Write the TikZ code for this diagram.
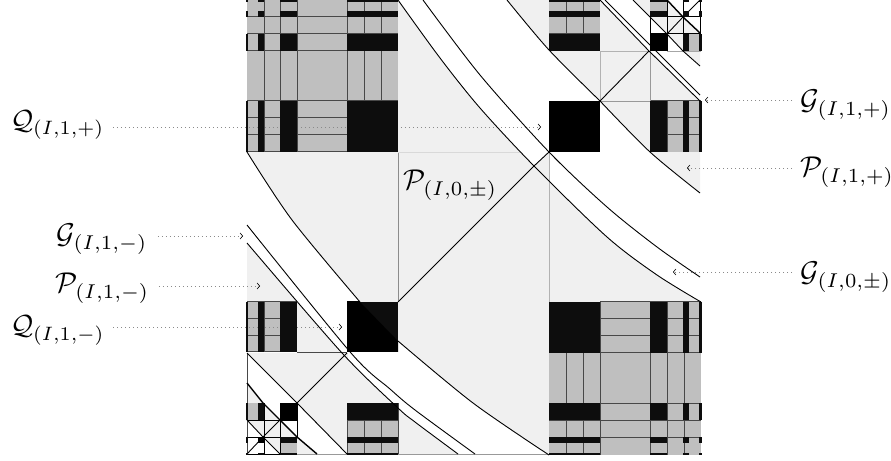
\documentclass[tikz,border=0pt]{standalone}
\usetikzlibrary{arrows.meta}
\definecolor{lg}{HTML}{F0F0F0}
\definecolor{mg}{HTML}{BFBFBF}
\definecolor{bk}{HTML}{0D0D0D}
\definecolor{ln}{HTML}{484848}
\definecolor{dt}{HTML}{8A8A8A}
\def\XL{246/248,258/264,280/297,347/398}
\def\XR{549/600,650/667,683/689,699/702}
\def\YT{0/2,11/17,34/51,101/152}
\def\YB{302/353,403/420,437/443,453/455}
\tikzset{
 lgfill/.style={fill=lg},
 mgfill/.style={fill=mg},
 grid/.style={draw=ln,line width=1bp},
 pale/.style={draw=#1,line width=0.8bp},
 curve/.style={draw=black,line width=0.9bp},
 heavy/.style={draw=black,line width=1.4bp},
 leader/.style={draw=dt,line width=0.7bp,dash pattern=on 0.8bp off 3.2bp,-{Straight Barb[color=black,length=2.5bp,width=6bp,line width=0.6bp]}},
 lab/.style={anchor=base west,inner sep=0pt,scale=2.87},
 labq/.style={anchor=base west,inner sep=0pt,scale=2.78},
}
\begin{document}
\begin{tikzpicture}[x=1bp,y=-1bp]
\useasboundingbox (0,0) rectangle (891,461);
\fill[white] (0,0) rectangle (891,461);
% light regions
\fill[lgfill] plot[smooth] coordinates {(398,0)(440,58)(480,108)(534,166)(607,237)(657,275)(701,302)} -- (398,302) -- cycle;
\fill[lgfill] (534,166) -- (549,152) -- (549,181) -- cycle;
\fill[lgfill] plot[smooth] coordinates {(247,152)(292,220)(360,302)(398,341)(473,403)(549,455)} -- (549,302) -- (398,302) -- (398,152) -- cycle;
\fill[lgfill] plot[smooth] coordinates {(507,0)(549,50)(600,101)(650,152)(700,193)} -- (700,101) -- (649,51) -- (600,0) -- cycle;
\fill[lgfill] (633,0) -- (650,17) -- (667,34) -- (683,51) -- (700,66) -- (700,0) -- cycle;
\fill[white] (667,0) -- (683,17) -- (700,33) -- (700,0) -- cycle;
\fill[lgfill] (247,353) -- (297,403) -- (347,454) -- (347,353) -- cycle;
\fill[lgfill] plot[smooth] coordinates {(247,243)(342,353)(398,408)(415,422)(458,454)} -- (398,454) -- (398,403) -- (347,403) -- (347,353) -- (297,353) -- (297,302) -- (247,302) -- cycle;
\fill[lgfill] (247,383) -- (263,403) -- (280,420) -- (297,437) -- (317,454) -- (280,454) -- (263,437) -- (247,420) -- cycle;
% mid grey blocks
\fill[mgfill] (247,0) rectangle (398,152);
\fill[mgfill] (549,302) rectangle (701,455);
\fill[mgfill] (549,0) rectangle (600,51);
\fill[mgfill] (650,101) rectangle (701,152);
\fill[mgfill] (650,0) rectangle (667,17);
\fill[mgfill] (683,34) rectangle (701,51);
\fill[mgfill] (247,302) rectangle (297,352);
\fill[mgfill] (347,403) rectangle (398,455);
\fill[mgfill] (247,403) rectangle (264,420);
\fill[mgfill] (280,437) rectangle (297,455);
% labels and leaders (under the black bars)
\node[labq] (Qp) at (10,130) {$\mathcal{Q}_{(I,1,+)}$};
\node[lab] (Gm) at (56,244) {$\mathcal{G}_{(I,1,-)}$};
\node[lab] (Pm) at (55,293) {$\mathcal{P}_{(I,1,-)}$};
\node[labq] (Qm) at (10,335) {$\mathcal{Q}_{(I,1,-)}$};
\node[lab] (Gp) at (800,110) {$\mathcal{G}_{(I,1,+)}$};
\node[lab] (Pp) at (800,177) {$\mathcal{P}_{(I,1,+)}$};
\node[lab] (Gz) at (800,282) {$\mathcal{G}_{(I,0,\pm)}$};
\node[lab] (Pz) at (403,190) {$\mathcal{P}_{(I,0,\pm)}$};
\coordinate (tQp) at (541,127);
\coordinate (tGm) at (243,236);
\coordinate (tPm) at (260,286);
\coordinate (tQm) at (342,327);
\coordinate (tGp) at (705,100);
\coordinate (tPp) at (687,168);
\coordinate (tGz) at (673,272);
\draw[leader] ([xshift=8bp]Qp.east |- tQp) -- (tQp);
\draw[leader] ([xshift=10bp]Gm.east |- tGm) -- (tGm);
\draw[leader] ([xshift=9bp]Pm.east |- tPm) -- (tPm);
\draw[leader] ([xshift=8bp]Qm.east |- tQm) -- (tQm);
\draw[leader] ([xshift=-8bp]Gp.west |- tGp) -- (tGp);
\draw[leader] ([xshift=-8bp]Pp.west |- tPp) -- (tPp);
\draw[leader] ([xshift=-8bp]Gz.west |- tGz) -- (tGz);
% grid lines
\foreach \x in {264,280,297,347,364,381} \draw[grid] (\x,0) -- (\x,152);
\foreach \y in {17,34,51,101} \draw[grid] (247,\y) -- (398,\y);
\foreach \y in {118,135} \draw[grid] (247,\y) -- (347,\y);
\draw[grid] (247,152) -- (398,152);
\foreach \y in {319,336} \draw[grid] (600,\y) -- (701,\y);
\foreach \y in {353,403,420,437} \draw[grid] (549,\y) -- (701,\y);
\foreach \x in {566,583} \draw[grid] (\x,353) -- (\x,455);
\foreach \x in {600,650,667,684} \draw[grid] (\x,302) -- (\x,455);
\draw[grid] (600,302) -- (701,302);
\foreach \x in {566,583} \draw[grid] (\x,0) -- (\x,51);
\foreach \y in {34,51} \draw[grid] (549,\y) -- (600,\y);
\foreach \y in {118,135} \draw[grid] (650,\y) -- (701,\y);
\foreach \x in {667,684} \draw[grid] (\x,101) -- (\x,152);
\draw[grid] (650,101) -- (701,101);
\foreach \y in {319,336} \draw[grid] (247,\y) -- (297,\y);
\foreach \x in {264,280} \draw[grid] (\x,302) -- (\x,352);
\draw[grid] (247,302) -- (297,302) (247,352) -- (297,352);
\foreach \x in {364,381} \draw[grid] (\x,420) -- (\x,455);
\foreach \y in {420,437} \draw[grid] (347,\y) -- (398,\y);
\draw[grid] (347,403) -- (347,455) (398,403) -- (398,455);
% frame lines of the P cells
\draw[pale=gray!90] (398,152) -- (398,302);
\draw[pale=gray!30] (398,152) -- (521,152);
\draw[pale=gray!60] (549,152) -- (549,302);
\draw[pale=gray!80] (297,454) -- (549,454);
\draw[grid] (297,353) -- (347,353);
\draw[grid] (247,353) -- (247,455);
\draw[pale=gray!60] (600,51) -- (650,51) (600,51) -- (600,101);
\draw[pale=gray!80] (600,101) -- (650,101) (650,51) -- (650,101);
\draw[pale=gray!12] (297,353) -- (297,403) (297,403) -- (347,403) (347,353) -- (347,403);
% small cells, top right
\draw[grid,draw=black] (650,17) -- (700,17) (650,34) -- (700,34) (667,0) -- (700,0);
\draw[grid,draw=black] (650,17) -- (650,34) (667,0) -- (667,51) (683,0) -- (683,51) (700,0) -- (700,34);
\draw[pale=gray!70] (667,51) -- (701,51);
\draw[curve] (667,34) -- (683,17) -- (700,0);
% small cells, bottom left
\draw[grid,draw=black] (247,420) -- (297,420) (247,437) -- (297,437) (247,454) -- (297,454);
\draw[grid,draw=black] (264,403) -- (264,455) (280,403) -- (280,455) (297,403) -- (297,437);
\draw[curve] (247,454) -- (263,437) -- (280,420);
\draw[curve] (247,420) -- (263,437) -- (280,454);
\draw[curve] (280,420) -- (297,437);
% black bars
\foreach \a/\b in \XL {\foreach \c/\d in \YT {\fill[bk] (\a,\c) rectangle (\b,\d);}}
\foreach \a/\b in \XR {\foreach \c/\d in \YB {\fill[bk] (\a,\c) rectangle (\b,\d);}}
\foreach \a/\b in {549/600} {\foreach \c/\d in {0/2,11/17,34/51} {\fill[bk] (\a,\c) rectangle (\b,\d);}}
\foreach \a/\b in {650/667,683/689,699/702} {\fill[bk] (\a,101) rectangle (\b,152);}
\foreach \c/\d in {0/2,11/17} {\fill[bk] (650,\c) rectangle (667,\d);}
\foreach \a/\b in {683/689,699/702} {\foreach \c/\d in {0/2,11/17,34/51} {\fill[bk] (\a,\c) rectangle (\b,\d);}}
\foreach \a/\b in {246/248,258/264,280/297} {\fill[bk] (\a,302) rectangle (\b,352);}
\foreach \c/\d in {403/420,437/443,453/455} {\fill[bk] (347,\c) rectangle (398,\d);}
\foreach \a/\b in {246/248,258/264} {\foreach \c/\d in {403/420,437/443,453/455} {\fill[bk] (\a,\c) rectangle (\b,\d);}}
\foreach \c/\d in {437/443,453/455} {\fill[bk] (280,\c) rectangle (297,\d);}
% pure black cells
\fill[black] (549,101) rectangle (600,152);
\fill[black] (650,34) rectangle (667,51);
\fill[black] (280,403) rectangle (297,420);
\fill[black] (258,437) rectangle (264,443);
\fill[bk] (347,302) rectangle (398,352);
\begin{scope}
\clip (347,302) rectangle (398,352);
\fill[black] plot[smooth] coordinates {(347,289)(360,302)(398,341)(411,352)} -- (347,352) -- cycle;
\end{scope}
% curves
\draw[curve] plot[smooth] coordinates {(398,0)(440,58)(480,108)(534,166)(607,237)(657,275)(701,302)};
\draw[curve] plot[smooth] coordinates {(423,0)(480,75)(549,152)(607,207)(657,247)(700,277)};
\draw[curve] plot[smooth] coordinates {(247,152)(292,220)(360,302)};
\draw[curve] plot[smooth] coordinates {(398,341)(473,403)(549,455)};
\draw[curve] plot[smooth] coordinates {(247,225)(351,353)(390,389)(415,410)(475,454)};
\draw[curve] plot[smooth] coordinates {(247,243)(342,353)(398,408)(415,422)(458,454)};
\draw[curve] plot[smooth] coordinates {(507,0)(549,50)(600,101)};
\draw[curve] plot[smooth] coordinates {(600,101)(650,152)(700,193)};
\draw[curve] (600,0) -- (649,51) -- (700,101);
\draw[curve] (605,0) -- (700,95);
\draw[curve] (633,0) -- (650,17) -- (667,34);
\draw[curve] (667,34) -- (683,51) -- (700,66);
\draw[heavy] (667,0) -- (683,17) -- (700,33);
\draw[curve] (398,302) -- (534,166) -- (549,152);
\draw[curve] (600,101) -- (649,51);
\draw[curve] (297,403) -- (347,353);
\draw[curve] (247,353) -- (297,403);
\draw[curve] (297,403) -- (347,454);
\draw[heavy] (247,383) -- (263,403) -- (280,420) -- (297,437) -- (317,454);
\end{tikzpicture}
\end{document}
